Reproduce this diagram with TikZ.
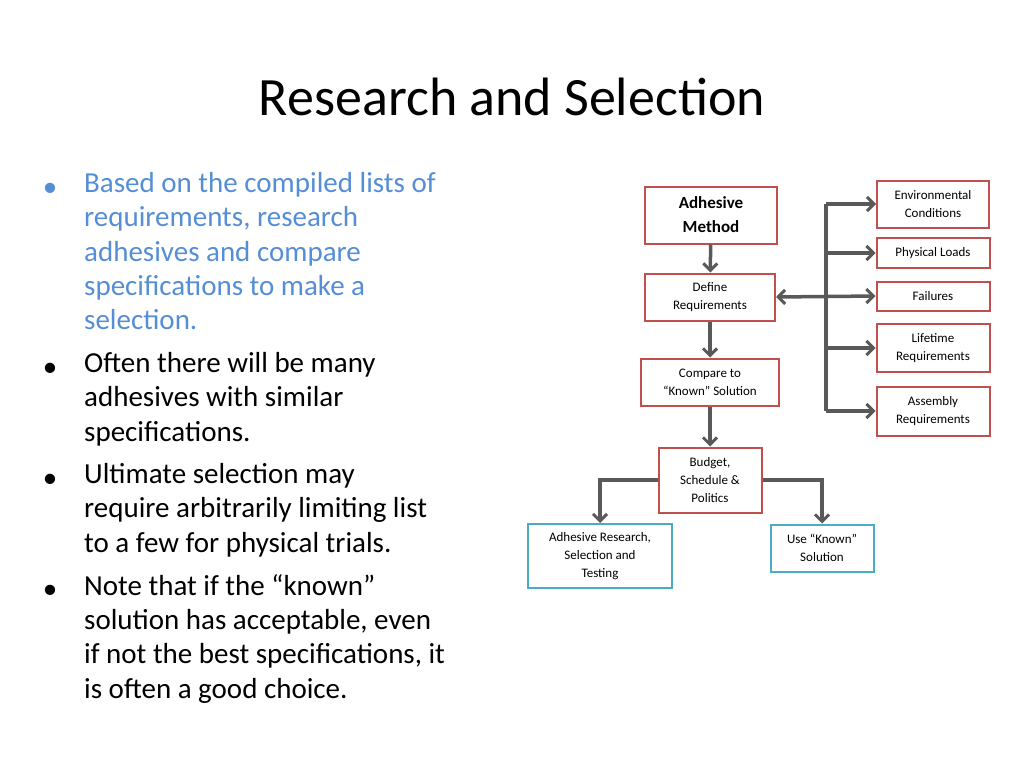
\documentclass[tikz,border=0pt]{standalone}
\usepackage{fontspec}
\setmainfont{Carlito}
\usetikzlibrary{arrows.meta}
\usetikzlibrary{positioning}

\definecolor{boxred}{RGB}{192,80,77}
\definecolor{boxblue}{RGB}{75,172,198}
\definecolor{flow}{RGB}{89,89,89}
\definecolor{bullblue}{RGB}{85,142,213}

\begin{document}
\begin{tikzpicture}[x=1pt,y=-1pt,
	step box/.style={draw=boxred,line width=2pt,align=center,font=\fontsize{13}{18}\selectfont,inner sep=0pt},
	end box/.style={step box,draw=boxblue},
	flow/.style={draw=flow,line width=3.5pt,-{Straight Barb[length=7pt,width=14pt,line width=3pt]}},
	bullet/.style={anchor=north west,align=left,inner sep=0pt,font=\fontsize{29}{34.4}\selectfont}]
	
	\useasboundingbox (0,0) rectangle (1024,768);
	
	\node (title) at (512,97) {\fontsize{54}{60}\selectfont Research and Selection};
	
	% bullets
	\node[bullet,text=bullblue] (b1) at (84,172) {Based on the compiled lists of\\requirements, research\\adhesives and compare\\specifications to make a\\selection.};
	\node[bullet] (b2) at (84,352) {Often there will be many\\adhesives with similar\\specifications.};
	\node[bullet] (b3) at (84,463) {Ultimate selection may\\require arbitrarily limiting list\\to a few for physical trials.};
	\node[bullet] (b4) at (84,574) {Note that if the “known”\\solution has acceptable, even\\if not the best specifications, it\\is often a good choice.};
	\foreach \y/\c in {190/bullblue,370/black,481/black,592/black}
		\node[text=\c,font=\fontsize{29}{30}\selectfont] at (50,\y) {•};
	
	% flow chart
	\node[step box,minimum width=132pt,minimum height=57pt,font=\fontsize{17}{24}\selectfont\bfseries] (method) at (711,215) {Adhesive\\Method};
	\node[step box,minimum width=130pt,minimum height=47pt] (define) at (710,297) {Define\\Requirements};
	\node[step box,minimum width=138pt,minimum height=47pt] (compare) at (710,382) {Compare to\\“Known” Solution};
	\node[step box,minimum width=103pt,minimum height=65pt] (budget) at (710,480) {Budget,\\Schedule \&\\Politics};
	\node[end box,minimum width=144pt,minimum height=64pt] (research) at (600,556) {Adhesive Research,\\Selection and\\Testing};
	\node[end box,minimum width=103pt,minimum height=47pt] (known) at (822,548) {Use “Known”\\Solution};
	
	\node[step box,minimum width=112pt,minimum height=47pt] (env) at (933,204) {Environmental\\Conditions};
	\node[step box,minimum width=113pt,minimum height=30pt] (loads) at (933,253) {Physical Loads};
	\node[step box,minimum width=113pt,minimum height=29pt] (fail) at (933,296) {Failures};
	\node[step box,minimum width=113pt,minimum height=48pt] (life) at (933,348) {Lifetime\\Requirements};
	\node[step box,minimum width=113pt,minimum height=49pt] (assembly) at (933,411) {Assembly\\Requirements};
	
	\coordinate (bustop) at (826,204);
	\coordinate (busbot) at (826,411);
	
	\draw[flow] (method) -- (define);
	\draw[flow] (define) -- (compare);
	\draw[flow] (compare) -- (budget);
	\draw[flow] (budget.west) -| (research.north);
	\draw[flow] (budget.east) -| (known.north);
	\draw[flow,{Straight Barb[length=7pt,width=14pt,line width=3pt]}-{Straight Barb[length=7pt,width=14pt,line width=3pt]}] (define.east) -- (fail.west);
	\draw[draw=flow,line width=3.5pt] (bustop) -- (busbot);
	\draw[flow] (bustop) -- (env.west);
	\draw[flow] (bustop |- loads) -- (loads.west);
	\draw[flow] (bustop |- life) -- (life.west);
	\draw[flow] (busbot) -- (assembly.west);
\end{tikzpicture}
\end{document}
